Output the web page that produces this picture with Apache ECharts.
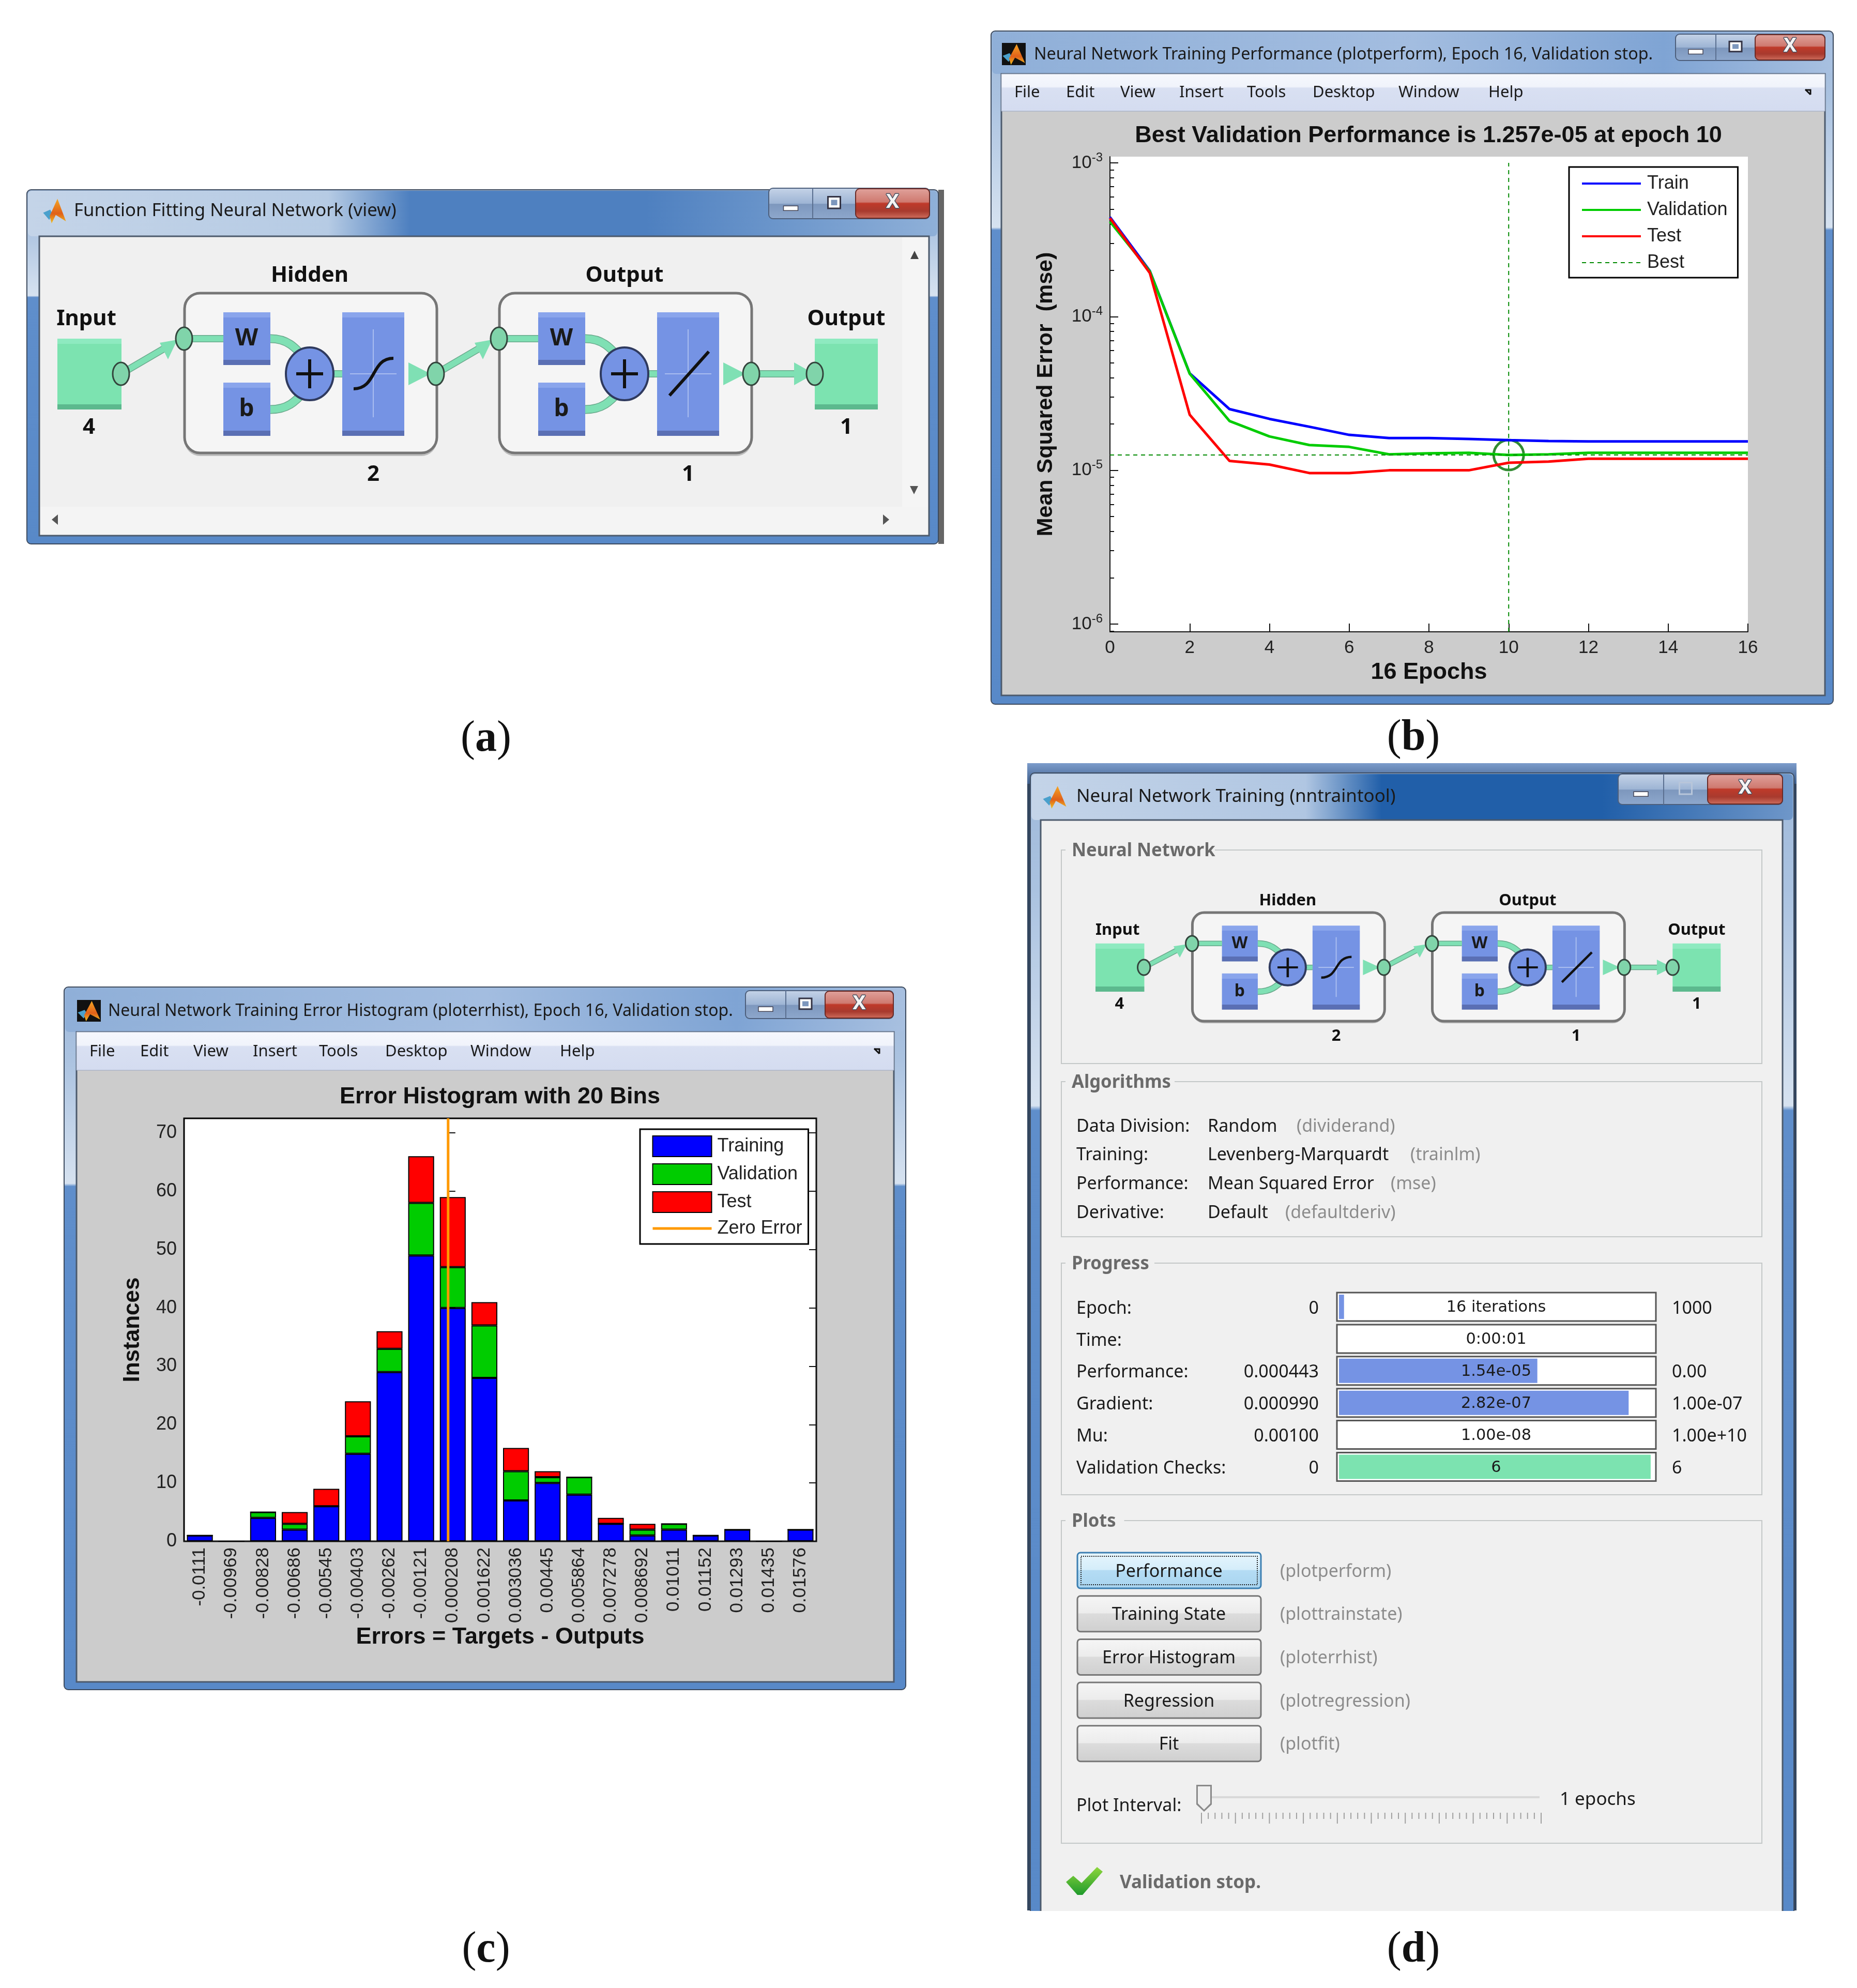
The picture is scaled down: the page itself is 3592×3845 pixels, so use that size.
<!DOCTYPE html>
<html>
<head>
<meta charset="utf-8">
<title>Neural network training</title>
<script src="https://cdn.jsdelivr.net/npm/echarts@6/dist/echarts.min.js"></script>
<style>
  html, body { margin: 0; background: #fff; }
  .layer { position: absolute; left: 0; top: 0; width: 3592px; height: 3845px; }
</style>
</head>
<body>
<div id="chrome" class="layer"></div>
<div id="perf" class="layer"></div>
<div id="hist" class="layer"></div>
<script>
// (b) performance, values
const epochs = [0, 1, 2, 3, 4, 5, 6, 7, 8, 9, 10, 11, 12, 13, 14, 15, 16];
const trainPerf = [4.43e-4, 1.98e-4, 4.27e-5, 2.5e-5, 2.16e-5, 1.92e-5, 1.7e-5, 1.62e-5, 1.62e-5, 1.6e-5, 1.57e-5, 1.55e-5, 1.54e-5, 1.54e-5, 1.54e-5, 1.54e-5, 1.54e-5];
const validPerf = [4.15e-4, 1.97e-4, 4.25e-5, 2.09e-5, 1.66e-5, 1.46e-5, 1.42e-5, 1.27e-5, 1.29e-5, 1.3e-5, 1.257e-5, 1.27e-5, 1.3e-5, 1.3e-5, 1.3e-5, 1.3e-5, 1.3e-5];
const testPerf = [4.37e-4, 1.92e-4, 2.3e-5, 1.15e-5, 1.09e-5, 9.6e-6, 9.6e-6, 1e-5, 1e-5, 1e-5, 1.12e-5, 1.14e-5, 1.19e-5, 1.19e-5, 1.19e-5, 1.19e-5, 1.19e-5];
const bestPerf = 1.257e-5;
const bestEpoch = 10;
const perfMin = 8.9e-7;
const perfMax = 1.097e-3;
const perfMajor = [1e-6, 1e-5, 1e-4, 1e-3];
const perfMinor = [9e-7, 2e-6, 3e-6, 4e-6, 5e-6, 6e-6, 7e-6, 8e-6, 9e-6, 2e-5, 3e-5, 4e-5, 5e-5, 6e-5, 7e-5, 8e-5, 9e-5, 2e-4, 3e-4, 4e-4, 5e-4, 6e-4, 7e-4, 8e-4, 9e-4];

// (c) histogram
const binLabels = ['-0.0111', '-0.00969', '-0.00828', '-0.00686', '-0.00545', '-0.00403', '-0.00262', '-0.00121', '0.000208', '0.001622', '0.003036', '0.00445', '0.005864', '0.007278', '0.008692', '0.01011', '0.01152', '0.01293', '0.01435', '0.01576'];
const trainingCounts = [1, 0, 4, 2, 6, 15, 29, 49, 40, 28, 7, 10, 8, 3, 1, 2, 1, 2, 0, 2];
const validationCounts = [0, 0, 1, 1, 0, 3, 4, 9, 7, 9, 5, 1, 3, 0, 1, 1, 0, 0, 0, 0];
const testCounts = [0, 0, 0, 2, 3, 6, 3, 8, 12, 4, 4, 1, 0, 1, 1, 0, 0, 0, 0, 0];
const countTicks = [0, 10, 20, 30, 40, 50, 60, 70];
const countMax = 72.5;
const errorMin = -0.01181;
const errorMax = 0.016467;

// (d) training tool rows
const algoRows = [
  ['Data Division:', 'Random', '(dividerand)', 2508],
  ['Training:', 'Levenberg-Marquardt', '(trainlm)', 2728],
  ['Performance:', 'Mean Squared Error', '(mse)', 2690],
  ['Derivative:', 'Default', '(defaultderiv)', 2486]
];
const progressRows = [
  ['Epoch:', '0', '16 iterations', '1000', 0.016, '#7593e4'],
  ['Time:', '', '0:00:01', '', 0, '#7593e4'],
  ['Performance:', '0.000443', '1.54e-05', '0.00', 0.63, '#7593e4'],
  ['Gradient:', '0.000990', '2.82e-07', '1.00e-07', 0.92, '#7593e4'],
  ['Mu:', '0.00100', '1.00e-08', '1.00e+10', 0, '#7593e4'],
  ['Validation Checks:', '0', '6', '6', 0.99, '#7ce3b0']
];
const plotButtons = [
  ['Performance', '(plotperform)'],
  ['Training State', '(plottrainstate)'],
  ['Error Histogram', '(ploterrhist)'],
  ['Regression', '(plotregression)'],
  ['Fit', '(plotfit)']
];
const menuItems = ['File', 'Edit', 'View', 'Insert', 'Tools', 'Desktop', 'Window', 'Help'];

const UI = '"Noto Sans", sans-serif';
const PLOT = '"Liberation Sans", Arial, sans-serif';
const g = [];

function text(str, x, y, o) {
  o = o || {};
  g.push({
    type: 'text', x: x, y: y, scaleX: o.sx || 1, z: o.z || 6,
    style: {
      text: str, fontSize: o.size || 34, fontFamily: o.font || UI, fontWeight: o.weight || 'normal',
      fill: o.color || '#1a1a1a', stroke: o.stroke, lineWidth: o.stroke ? 3 : 0,
      textAlign: o.align || 'left', textVerticalAlign: 'middle', rich: o.rich
    }
  });
}
function rect(x, y, w, h, fill, stroke, lw, r) {
  g.push({ type: 'rect', z: 2, shape: { x: x, y: y, width: w, height: h, r: r || 0 }, style: { fill: fill || 'none', stroke: stroke || 'none', lineWidth: lw || 0 } });
}
function poly(points, fill) {
  g.push({ type: 'polygon', z: 3, shape: { points: points }, style: { fill: fill } });
}
function line(points, color, lw, z) {
  g.push({ type: 'polyline', z: z || 3, shape: { points: points }, style: { stroke: color, lineWidth: lw, fill: 'none' } });
}
function grad(stops, horizontal) {
  return {
    type: 'linear', x: 0, y: 0, x2: horizontal ? 1 : 0, y2: horizontal ? 0 : 1,
    colorStops: stops.map(function (s) { return { offset: s[0], color: s[1] }; })
  };
}

function icon(x, y, w, h, dark) {
  if (dark) rect(x, y, w, h, '#111');
  poly([[x + 0.03 * w, y + 0.58 * h], [x + 0.32 * w, y + 0.46 * h], [x + 0.42 * w, y + 0.62 * h], [x + 0.28 * w, y + 0.85 * h]], '#4aa0cc');
  poly([[x + 0.62 * w, y + 0.05 * h], [x + 0.97 * w, y + 0.9 * h], [x + 0.55 * w, y + 0.66 * h], [x + 0.38 * w, y + 0.98 * h], [x + 0.3 * w, y + 0.7 * h]], grad([[0, '#f5a623'], [0.6, '#e0601a'], [1, '#f0c020']]));
}

function captionButtons(x0, x1, x2, x3, y0, y1, dimMax) {
  const h = y1 - y0;
  rect(x0, y0, x3 - x0, h, grad([[0, '#c6d4e8'], [0.5, '#9db4d4'], [0.52, '#7d97bd'], [1, '#8ea8cd']]), '#4d5f7c', 2, 8);
  rect(x2, y0 + 1, x3 - x2, h - 2, grad([[0, '#e0a29c'], [0.45, '#cf7a70'], [0.5, '#bf3a2a'], [0.75, '#a83a2e'], [1, '#d0705f']]), '#6a2a26', 2, 8);
  line([[x1, y0], [x1, y1]], '#5a6f90', 2);
  const cy = y0 + h * 0.58;
  rect((x0 + x1) / 2 - 14, cy, 28, 9, '#fff', '#445', 1.5);
  const c1 = (x1 + x2) / 2;
  rect(c1 - 12, y0 + h * 0.28, 24, h * 0.38, dimMax ? 'none' : '#fff', dimMax ? '#b8c6da' : '#334', 3);
  if (!dimMax) rect(c1 - 6, y0 + h * 0.38, 12, h * 0.18, '#7d97bd');
  text('X', (x2 + x3) / 2, y0 + h * 0.46, { size: 38, weight: 'bold', color: '#f4f4f4', stroke: '#4a5060', align: 'center' });
}

function windowFrame(o) {
  rect(o.x, o.y, o.w, o.h, grad([[0, '#9fb9da'], [0.1, '#aac2e0'], [o.glass, '#d6e2f0'], [o.glass + 0.004, '#5f8ecb'], [1, '#5889c8']]), '#3c4a5e', 2, 8);
  rect(o.x + 2, o.y + 2, o.w - 4, o.ix[1] - o.y - 2, grad(o.bar, true), 'none', 0, 8);
  rect(o.ix[0], o.ix[1], o.ix[2] - o.ix[0], o.ix[3] - o.ix[1], o.fill, '#4c5a6c', 3);
  text(o.title, o.tx, o.ty, { size: o.ts || 32 });
}

function menuBar(x0, x1, y0, y1, xs, cy) {
  rect(x0, y0, x1 - x0, y1 - y0, grad([[0, '#f6f8fd'], [0.35, '#f0f3fb'], [0.38, '#d9e0f2'], [1, '#d4dcf0']]), '#9aa6bd', 1);
  menuItems.forEach(function (m, i) { text(m, xs[i], cy, { size: 31 }); });
  const ax = x1 - 30;
  line([[ax - 8, cy - 5], [ax + 2, cy - 5], [ax + 2, cy + 4]], '#111', 3);
  line([[ax - 8, cy - 6], [ax + 2, cy + 4]], '#111', 3);
}

// block diagram, laid out in panel (a) pixels and scaled for each panel
function network(ox, oy, sx, sy, labelSize, glyphSize) {
  const X = function (u) { return ox + u * sx; };
  const Y = function (v) { return oy + v * sy; };
  const P = function (pts) { return pts.map(function (p) { return [X(p[0]), Y(p[1])]; }); };
  const bevel = function (u0, v0, u1, v1, fill, dark, light) {
    const hh = Y(v1) - Y(v0);
    const e = 10 / hh;
    rect(X(u0), Y(v0), X(u1) - X(u0), hh, grad([[0, light], [e, light], [e + 0.001, fill], [1 - e, fill], [1 - e + 0.001, dark], [1, dark]]));
  };
  const wire = function (pts, lw) {
    line(P(pts), '#6aa98c', (lw || 11) * sy + 3);
    line(P(pts), '#7fe0b4', (lw || 11) * sy);
  };
  const curve = function (a, c1, c2, b) {
    [['#6aa98c', 14 * sy + 3], ['#7fe0b4', 14 * sy]].forEach(function (s) {
      g.push({ type: 'bezierCurve', z: 3, shape: { x1: X(a[0]), y1: Y(a[1]), cpx1: X(c1[0]), cpy1: Y(c1[1]), cpx2: X(c2[0]), cpy2: Y(c2[1]), x2: X(b[0]), y2: Y(b[1]) }, style: { stroke: s[0], lineWidth: s[1], fill: 'none' } });
    });
  };
  const port = function (u, v) {
    g.push({ type: 'ellipse', z: 4, shape: { cx: X(u), cy: Y(v), rx: 16 * sx, ry: 22 * sy }, style: { fill: '#80d4aa', stroke: '#33443c', lineWidth: 3 } });
  };
  const tri = function (pts) { poly(P(pts), '#7fe0b4'); };

  // shadows then group boxes
  [0, 609].forEach(function (d) {
    rect(X(246 + d), Y(6), X(734 + d) - X(246 + d), Y(309) - Y(0), '#bdbdbd', 'none', 0, 30 * sx);
    rect(X(246 + d), Y(0), X(734 + d) - X(246 + d), Y(309) - Y(0), '#f5f5f5', '#767676', 5, 30 * sx);
  });
  wire([[123, 156], [205, 108]]);
  tri([[198, 96], [232, 90], [214, 128]]);
  [0, 609].forEach(function (d, layer) {
    wire([[245 + d, 88], [321 + d, 88]]);
    curve([412 + d, 88], [445 + d, 88], [460 + d, 105], [478 + d, 125]);
    curve([412 + d, 225], [445 + d, 225], [460 + d, 210], [478 + d, 190]);
    wire([[530 + d, 156], [551 + d, 156]]);
    tri([[679 + d, 134], [722 + d, 156], [679 + d, 178]]);
    bevel(321 + d, 37, 412 + d, 139, '#7593e4', '#5a6fb4', '#8aa5ec');
    bevel(321 + d, 173, 412 + d, 276, '#7593e4', '#5a6fb4', '#8aa5ec');
    bevel(551 + d, 37, 671 + d, 276, '#7593e4', '#5a6fb4', '#8aa5ec');
    line(P([[611 + d, 70], [611 + d, 240]]), '#a9bdf0', 2);
    line(P([[566 + d, 156], [656 + d, 156]]), '#a9bdf0', 2);
    if (layer === 0) {
      g.push({ type: 'bezierCurve', z: 4, shape: { x1: X(573), y1: Y(185), cpx1: X(618), cpy1: Y(185), cpx2: X(606), cpy2: Y(126), x2: X(650), y2: Y(126) }, style: { stroke: '#111', lineWidth: 5 * sy + 1, fill: 'none' } });
    } else {
      line(P([[1184, 198], [1260, 113]]), '#111', 5 * sy + 1, 4);
    }
    g.push({ type: 'ellipse', z: 4, shape: { cx: X(488 + d), cy: Y(156), rx: 46 * sx, ry: 51 * sy }, style: { fill: '#7593e4', stroke: '#2f3a5e', lineWidth: 4 } });
    line(P([[462 + d, 156], [514 + d, 156]]), '#111', 6 * sy, 5);
    line(P([[488 + d, 128], [488 + d, 184]]), '#111', 6 * sx, 5);
    text('W', X(366 + d), Y(88), { size: glyphSize, weight: 'bold', align: 'center' });
    text('b', X(366 + d), Y(225), { size: glyphSize, weight: 'bold', align: 'center' });
  });
  wire([[732, 156], [814, 108]]);
  tri([[807, 96], [841, 90], [823, 128]]);
  wire([[1342, 156], [1432, 156]]);
  tri([[1425, 134], [1464, 156], [1425, 178]]);
  bevel(0, 88, 124, 225, '#7ce3b0', '#5cb98e', '#8eeac0');
  bevel(1465, 88, 1587, 225, '#7ce3b0', '#5cb98e', '#8eeac0');
  [[123, 156], [245, 88], [732, 156], [854, 88], [1342, 156], [1465, 156]].forEach(function (p) { port(p[0], p[1]); });

  const bold = { size: labelSize, weight: 'bold', align: 'center', color: '#111' };
  text('Hidden', X(488), Y(-34), bold);
  text('Output', X(1097), Y(-34), bold);
  text('Input', X(56), Y(50), bold);
  text('Output', X(1526), Y(50), bold);
  text('4', X(61), Y(260), bold);
  text('1', X(1526), Y(260), bold);
  text('2', X(611), Y(351), bold);
  text('1', X(1220), Y(351), bold);
}

function groupBox(x0, y0, x1, y1, label) {
  rect(x0, y0, x1 - x0, y1 - y0, 'none', '#c4c8c8', 2);
  rect(x0 + 8, y0 - 4, label.length * 19.5 + 16, 8, '#f0f0f0');
  text(label, x0 + 20, y0 + 2, { size: 36, weight: 'bold', color: '#6a6a6a', sx: 0.96 });
}

// (a)
rect(1815, 367, 11, 685, '#666');
windowFrame({
  x: 52, y: 367, w: 1763, h: 685, glass: 0.3, title: 'Function Fitting Neural Network (view)', tx: 143, ty: 408, ts: 34.7,
  ix: [76, 457, 1797, 1036], fill: '#f0f0f0',
  bar: [[0, '#c4d4e8'], [0.33, '#b6cbe4'], [0.42, '#4e80c0'], [0.68, '#4e80c0'], [1, '#8fb0d8']]
});
icon(82, 382, 47, 51);
captionButtons(1487, 1572, 1655, 1798, 364, 423);
rect(1745, 459, 50, 575, '#f5f5f5');
rect(78, 980, 1717, 54, '#f4f4f4');
poly([[1761, 501], [1769, 485], [1777, 501]], '#444');
poly([[1760, 940], [1776, 940], [1768, 956]], '#555');
poly([[112, 995], [112, 1015], [100, 1005]], '#555');
poly([[1708, 995], [1708, 1015], [1720, 1005]], '#555');
network(111, 567, 1, 1, 42, 46);

// (b)
windowFrame({
  x: 1917, y: 60, w: 1629, h: 1302, glass: 0.292, title: 'Neural Network Training Performance (plotperform), Epoch 16, Validation stop.', tx: 2000, ty: 106, ts: 32.3,
  ix: [1937, 143, 3530, 1345], fill: '#cccccc',
  bar: [[0, '#8fafd8'], [0.5, '#a3bde0'], [0.8, '#7fa4d4'], [1, '#a8c0e0']]
});
icon(1938, 83, 46, 43, true);
captionButtons(3241, 3319, 3395, 3530, 66, 117);
menuBar(1937, 3530, 143, 215, [1962, 2062, 2167, 2281, 2412, 2539, 2705, 2879], 179);

// (c)
windowFrame({
  x: 124, y: 1909, w: 1628, h: 1359, glass: 0.28, title: 'Neural Network Training Error Histogram (ploterrhist), Epoch 16, Validation stop.', tx: 209, ty: 1956, ts: 32,
  ix: [148, 1996, 1729, 3253], fill: '#cccccc',
  bar: [[0, '#8fafd8'], [0.5, '#a3bde0'], [0.8, '#7fa4d4'], [1, '#a8c0e0']]
});
icon(149, 1934, 46, 42, true);
captionButtons(1442, 1520, 1596, 1728, 1916, 1970);
menuBar(148, 1729, 1996, 2070, [173, 271, 374, 489, 617, 745, 910, 1083], 2034);

// (d), the window runs off the bottom of the crop
rect(1987, 1476, 1488, 40, grad([[0, '#7c9ccb'], [1, '#3f5f8c']]));
rect(1987, 1516, 6, 2179, '#33465f');
rect(3470, 1516, 5, 2179, '#33465f');
windowFrame({
  x: 1993, y: 1495, w: 1477, h: 2260, glass: 0.285, title: 'Neural Network Training (nntraintool)', tx: 2082, ty: 1541, ts: 35,
  ix: [2013, 1586, 3448, 3740], fill: '#f0f0f0',
  bar: [[0, '#c4d4e8'], [0.36, '#b0c6e2'], [0.46, '#215fa9'], [0.75, '#215fa9'], [1, '#6f97c9']]
});
rect(1980, 3696, 1500, 70, '#fff');
icon(2016, 1518, 48, 47);
captionButtons(3130, 3218, 3303, 3448, 1497, 1556, true);

groupBox(2053, 1644, 3408, 2057, 'Neural Network');
network(2119, 1765, 0.762, 0.68, 31, 32);

groupBox(2053, 2092, 3408, 2392, 'Algorithms');
algoRows.forEach(function (r, i) {
  const y = 2179 + i * 55.8;
  text(r[0], 2082, y);
  text(r[1], 2336, y);
  text(r[2], r[3], y, { color: '#8c8c8c' });
});

groupBox(2053, 2443, 3408, 2891, 'Progress');
progressRows.forEach(function (r, i) {
  const top = 2500 + i * 61.9;
  const mid = top + 27;
  text(r[0], 2082, mid + 4);
  text(r[1], 2551, mid + 4, { align: 'right' });
  rect(2586, top, 617, 55, '#fff', '#555', 3);
  if (r[4]) rect(2590, top + 4, 609 * r[4], 47, r[5]);
  text(r[2], 2894, mid + 2, { align: 'center', size: 31, font: '"DejaVu Sans", sans-serif', sx: 0.98 });
  text(r[3], 3234, mid + 4);
});

groupBox(2053, 2941, 3408, 3565, 'Plots');
plotButtons.forEach(function (b, i) {
  const top = 3003 + i * 83.7;
  const fill = i === 0 ? grad([[0, '#e8f6fd'], [0.48, '#d4edfa'], [0.5, '#b4dcf4'], [1, '#a8d4ef']]) : grad([[0, '#f6f6f6'], [0.48, '#ececec'], [0.5, '#dcdcdc'], [1, '#cfcfcf']]);
  rect(2084, top, 355, 69, fill, i === 0 ? '#3c7fb1' : '#777', 3, 6);
  if (i === 0) g.push({ type: 'rect', z: 3, shape: { x: 2091, y: top + 7, width: 341, height: 55 }, style: { fill: 'none', stroke: '#222', lineWidth: 2, lineDash: [2, 2] } });
  text(b[0], 2261, top + 37, { align: 'center' });
  text(b[1], 2476, top + 37, { color: '#8c8c8c' });
});

text('Plot Interval:', 2082, 3493);
rect(2314, 3474, 664, 4, '#d8d8d8');
for (let i = 0; i <= 50; i++) {
  const tx = 2324 + i * 13.14;
  line([[tx, 3506], [tx, i % 5 === 0 ? 3527 : 3518]], '#a0a0a0', 2);
}
poly([[2314, 3452], [2344, 3452], [2344, 3490], [2329, 3504], [2314, 3490]], '#8a8a8a');
poly([[2317, 3455], [2341, 3455], [2341, 3488], [2329, 3500], [2317, 3488]], '#efefef');
text('1 epochs', 3017, 3481, { size: 35 });

poly([[2062, 3640], [2076, 3628], [2092, 3642], [2122, 3611], [2133, 3620], [2094, 3665], [2084, 3665]], grad([[0, '#8ed63c'], [1, '#1f9a2c']]));
text('Validation stop.', 2166, 3642, { size: 35, weight: 'bold', color: '#6a6a6a' });

// figure captions
const capRich = { r: { fontFamily: '"Liberation Serif", serif', fontSize: 84, fill: '#111' }, b: { fontFamily: '"Liberation Serif", serif', fontSize: 84, fontWeight: 'bold', fill: '#111' } };
[['a', 940, 1430], ['b', 2734, 1428], ['c', 940, 3772], ['d', 2734, 3772]].forEach(function (c) {
  text('{r|(}{b|' + c[0] + '}{r|)}', c[1], c[2], { align: 'center', rich: capRich });
});

echarts.init(document.getElementById('chrome')).setOption({ animation: false, backgroundColor: '#fff', graphic: g });

// (b) chart
const withEpochs = function (vals) { return vals.map(function (v, i) { return [epochs[i], v]; }); };
const perfLine = function (name, vals, color) {
  return { name: name, type: 'line', data: withEpochs(vals), symbol: 'none', lineStyle: { color: color, width: 5 }, itemStyle: { color: color } };
};
const bestStyle = { color: '#008a00', width: 2, type: [8, 7] };
echarts.init(document.getElementById('perf')).setOption({
  animation: false,
  title: { text: 'Best Validation Performance is 1.257e-05 at epoch 10', left: 2758, top: 235, textAlign: 'center', textStyle: { fontFamily: PLOT, fontSize: 45, fontWeight: 'bold', color: '#111' } },
  legend: {
    left: 3035, top: 323, orient: 'vertical', selectedMode: false, backgroundColor: '#fff', borderColor: '#000', borderWidth: 3,
    padding: [14, 20, 11, 23], itemWidth: 114, itemHeight: 30, itemGap: 15,
    itemStyle: { opacity: 0 }, lineStyle: { width: 4 },
    textStyle: { fontFamily: PLOT, fontSize: 36, color: '#222', padding: [0, 0, 0, 7] },
    data: ['Train', 'Validation', 'Test', { name: 'Best', lineStyle: { width: 2 } }]
  },
  grid: { left: 2147, top: 303, width: 1234, height: 919, show: true, backgroundColor: '#fff', borderWidth: 0 },
  xAxis: {
    type: 'value', min: 0, max: 16, interval: 2, name: '16 Epochs', nameLocation: 'middle', nameGap: 56,
    nameTextStyle: { fontFamily: PLOT, fontSize: 45, fontWeight: 'bold', color: '#111' },
    axisLine: { lineStyle: { color: '#111', width: 2 } },
    axisTick: { inside: true, length: 16, lineStyle: { color: '#111', width: 2 } },
    axisLabel: { fontFamily: PLOT, fontSize: 35, color: '#222', margin: 14 },
    splitLine: { show: false }
  },
  yAxis: [{
    type: 'log', logBase: 10, min: perfMin, max: perfMax, name: 'Mean Squared Error  (mse)', nameLocation: 'middle', nameGap: 102, nameRotate: 90,
    nameTextStyle: { fontFamily: PLOT, fontSize: 43, fontWeight: 'bold', color: '#111' }, nameMoveOverlap: false,
    axisLine: { show: true, lineStyle: { color: '#111', width: 2 } },
    axisTick: { show: true, inside: true, length: 16, customValues: perfMajor, lineStyle: { color: '#111', width: 2 } },
    axisLabel: {
      customValues: perfMajor, margin: 14,
      formatter: function (v) { return '{b|10}{s|' + Math.round(Math.log10(v)) + '}'; },
      rich: { b: { fontFamily: PLOT, fontSize: 35, color: '#222' }, s: { fontFamily: PLOT, fontSize: 24, color: '#222', padding: [0, 0, 20, 0] } }
    },
    splitLine: { show: false }, minorTick: { show: false }
  }, {
    type: 'log', logBase: 10, min: perfMin, max: perfMax, position: 'left',
    axisLine: { show: false }, axisLabel: { show: false }, splitLine: { show: false },
    axisTick: { show: true, inside: true, length: 8, customValues: perfMinor, lineStyle: { color: '#111', width: 2 } }
  }],
  series: [
    perfLine('Train', trainPerf, '#0000ff'),
    perfLine('Validation', validPerf, '#00cc00'),
    perfLine('Test', testPerf, '#ff0000'),
    { name: 'Best', type: 'line', symbol: 'none', data: [[epochs[0], bestPerf], [epochs[16], bestPerf]], lineStyle: bestStyle, itemStyle: { color: '#008a00' } },
    { name: 'Best', type: 'line', symbol: 'none', data: [[bestEpoch, perfMin], [bestEpoch, 1e-3]], lineStyle: bestStyle, itemStyle: { color: '#008a00' } },
    { name: 'Best point', type: 'scatter', symbol: 'circle', symbolSize: 58, data: [[bestEpoch, bestPerf]], itemStyle: { color: 'none', borderColor: '#006e00', borderWidth: 5 } }
  ]
});

// (c) chart
const histBar = function (name, vals, color) {
  return { name: name, type: 'bar', stack: 'errors', barCategoryGap: '18%', data: vals, xAxisIndex: 0, yAxisIndex: 0, itemStyle: { color: color, borderColor: '#000', borderWidth: 2 } };
};
const tickLine = { color: '#111', width: 2 };
echarts.init(document.getElementById('hist')).setOption({
  animation: false,
  title: { text: 'Error Histogram with 20 Bins', left: 962, top: 2094, textAlign: 'center', textStyle: { fontFamily: PLOT, fontSize: 45, fontWeight: 'bold', color: '#111' } },
  legend: {
    left: 1238, top: 2184, orient: 'vertical', selectedMode: false, backgroundColor: '#fff', borderColor: '#000', borderWidth: 3,
    padding: [12, 12, 12, 22], itemWidth: 114, itemHeight: 40, itemGap: 12, lineStyle: { width: 5 },
    textStyle: { fontFamily: PLOT, fontSize: 36, color: '#222', padding: [0, 0, 0, 6] },
    data: [{ name: 'Training', icon: 'rect' }, { name: 'Validation', icon: 'rect' }, { name: 'Test', icon: 'rect' }, { name: 'Zero Error', itemStyle: { opacity: 0 } }]
  },
  grid: { left: 356, top: 2163, width: 1223, height: 818, show: true, backgroundColor: '#fff', borderColor: '#000', borderWidth: 3 },
  xAxis: [{
    type: 'category', data: binLabels, name: 'Errors = Targets - Outputs', nameLocation: 'middle', nameGap: 163, nameMoveOverlap: false,
    nameTextStyle: { fontFamily: PLOT, fontSize: 45, fontWeight: 'bold', color: '#111' },
    axisLine: { lineStyle: tickLine },
    axisTick: { inside: true, length: 14, alignWithLabel: true, lineStyle: tickLine },
    axisLabel: { interval: 0, rotate: 90, fontFamily: PLOT, fontSize: 35, color: '#222', margin: 12, hideOverlap: false }
  }, {
    type: 'category', data: binLabels, position: 'top',
    axisLine: { lineStyle: tickLine }, axisLabel: { show: false },
    axisTick: { inside: true, length: 14, alignWithLabel: true, interval: 0, lineStyle: tickLine }
  }, {
    type: 'value', min: errorMin, max: errorMax, show: false
  }],
  yAxis: [{
    type: 'value', min: 0, max: countMax, interval: 10, name: 'Instances', nameLocation: 'middle', nameGap: 77, nameRotate: 90, nameMoveOverlap: false,
    nameTextStyle: { fontFamily: PLOT, fontSize: 44, fontWeight: 'bold', color: '#111' },
    axisLine: { show: true, lineStyle: tickLine },
    axisTick: { show: true, inside: true, length: 14, customValues: countTicks, lineStyle: tickLine },
    axisLabel: { customValues: countTicks, fontFamily: PLOT, fontSize: 36, color: '#222', margin: 14 },
    splitLine: { show: false }
  }, {
    type: 'value', min: 0, max: countMax, interval: 10, position: 'right',
    axisLine: { show: true, lineStyle: tickLine }, axisLabel: { show: false }, splitLine: { show: false },
    axisTick: { show: true, inside: true, length: 14, customValues: countTicks, lineStyle: tickLine }
  }],
  series: [
    histBar('Training', trainingCounts, '#0000ff'),
    histBar('Validation', validationCounts, '#00cc00'),
    histBar('Test', testCounts, '#ff0000'),
    { name: 'Zero Error', type: 'line', symbol: 'none', xAxisIndex: 2, yAxisIndex: 0, z: 5, data: [[0, 0], [0, countMax]], lineStyle: { color: '#ff9900', width: 5 }, itemStyle: { color: '#ff9900' } }
  ]
});
</script>
</body>
</html>
